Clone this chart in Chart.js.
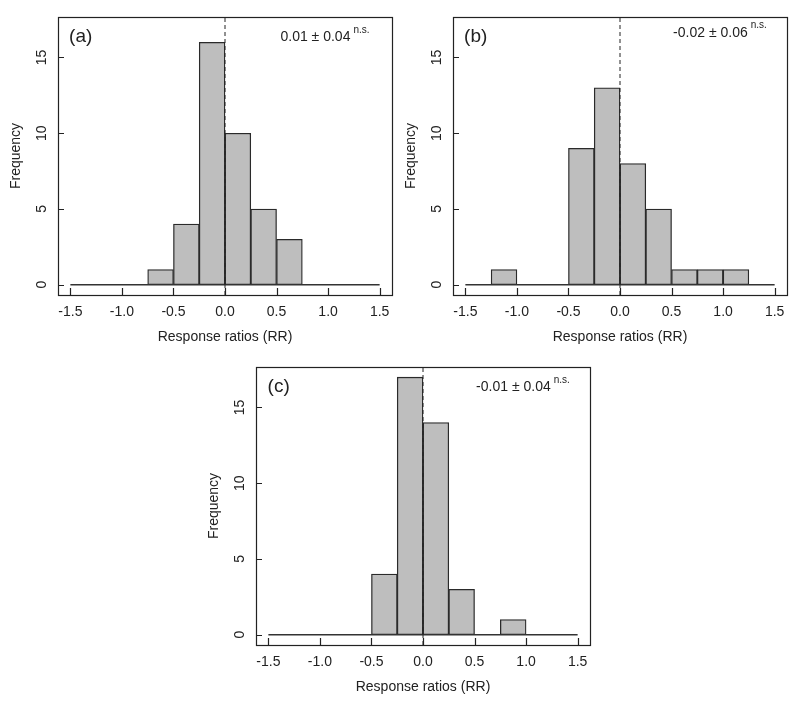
<!DOCTYPE html>
<html>
<head>
<meta charset="utf-8">
<script src="https://cdn.jsdelivr.net/npm/chart.js@4/dist/chart.umd.min.js"></script>
<style>
  html, body { margin: 0; padding: 0; background: #fff; }
  body { width: 800px; height: 708px; position: relative; overflow: hidden; }
  canvas { position: absolute; }
</style>
</head>
<body>
<canvas id="pa" width="400" height="354" style="left:0px;top:0px"></canvas>
<canvas id="pb" width="400" height="354" style="left:395px;top:0px"></canvas>
<canvas id="pc" width="400" height="354" style="left:198px;top:350px"></canvas>
<script>
// ---- data ----
const binEdges = [-1.5, -1.25, -1.0, -0.75, -0.5, -0.25, 0, 0.25, 0.5, 0.75, 1.0, 1.25, 1.5];
const countsA = [0, 0, 0, 1, 4, 16, 10, 5, 3, 0, 0, 0];
const countsB = [0, 1, 0, 0, 9, 13, 8, 5, 1, 1, 1, 0];
const countsC = [0, 0, 0, 0, 4, 17, 14, 3, 0, 1, 0, 0];
const xTickValues = [-1.5, -1.0, -0.5, 0, 0.5, 1.0, 1.5];
const xTickLabels = ['-1.5', '-1.0', '-0.5', '0.0', '0.5', '1.0', '1.5'];
const yTickValues = [0, 5, 10, 15];
const yTickLabels = ['0', '5', '10', '15'];
const panelLabels = ['(a)', '(b)', '(c)'];
const meanTexts = ['0.01 \u00B1 0.04', '-0.02 \u00B1 0.06', '-0.01 \u00B1 0.04'];
const sigTexts = ['n.s.', 'n.s.', 'n.s.'];
const xTitle = 'Response ratios (RR)';
const yTitle = 'Frequency';
const refLineValue = 0;

// ---- styling / layout ----
const FONT = '"Liberation Sans", Arial, Helvetica, sans-serif';
const INK = '#222222';
const X_MIN = -1.62, X_MAX = 1.62, Y_MIN = -0.68, Y_MAX = 17.68;

const framePlugin = {
  id: 'frame',
  afterDatasetsDraw(chart, args, opts) {
    const { ctx, chartArea: a, scales: { x, y } } = chart;
    ctx.save();
    ctx.strokeStyle = INK;
    ctx.lineWidth = 1.2;
    ctx.beginPath();
    x.ticks.forEach(t => {
      const px = Math.round(x.getPixelForValue(t.value)) + 0.5;
      ctx.moveTo(px, a.bottom);
      ctx.lineTo(px, a.bottom - 7);
    });
    y.ticks.forEach(t => {
      const py = Math.round(y.getPixelForValue(t.value)) + 0.5;
      ctx.moveTo(a.left, py);
      ctx.lineTo(a.left + 6, py);
    });
    ctx.stroke();
    ctx.strokeRect(Math.round(a.left) + 0.5, Math.round(a.top) + 0.5, Math.round(a.width), Math.round(a.height));

    ctx.fillStyle = INK;
    ctx.textBaseline = 'middle';
    ctx.textAlign = 'center';
    ctx.font = '19px ' + FONT;
    ctx.fillText(opts.label, x.getPixelForValue(opts.labelX), y.getPixelForValue(opts.labelY));

    ctx.font = '14px ' + FONT;
    const mw = ctx.measureText(opts.mean).width;
    ctx.font = '10px ' + FONT;
    const sw = ctx.measureText(opts.sig).width;
    const gap = 3;
    const total = mw + gap + sw;
    const cx = x.getPixelForValue(opts.meanX);
    const cy = y.getPixelForValue(opts.meanY);
    const left = cx - total / 2;
    ctx.textAlign = 'left';
    ctx.textBaseline = 'alphabetic';
    ctx.font = '14px ' + FONT;
    ctx.fillText(opts.mean, left, cy + 5);
    ctx.font = '10px ' + FONT;
    ctx.fillText(opts.sig, left + mw + gap, cy - 3.5);
    ctx.restore();
  }
};

function makeChart(id, counts, idx, meanY) {
  const bars = [];
  counts.forEach((c, i) => {
    if (c > 0) bars.push({ x: (binEdges[i] + binEdges[i + 1]) / 2, y: c });
  });
  const baseline = [{ x: binEdges[0], y: 0 }, { x: binEdges[binEdges.length - 1], y: 0 }];
  const refLine = [{ x: refLineValue, y: Y_MIN }, { x: refLineValue, y: Y_MAX }];
  return new Chart(document.getElementById(id), {
    type: 'bar',
    data: {
      datasets: [
        {
          type: 'line', data: refLine, borderColor: INK, borderWidth: 1,
          borderDash: [4, 3], pointRadius: 0, order: 0, fill: false
        },
        {
          type: 'line', data: baseline, borderColor: '#333333', borderWidth: 1.4,
          pointRadius: 0, order: 1, fill: false
        },
        {
          type: 'bar', data: bars, backgroundColor: '#bebebe', borderColor: '#2a2a2a',
          borderWidth: 1.3, borderSkipped: false, barPercentage: 1, categoryPercentage: 1, order: 2
        }
      ]
    },
    options: {
      responsive: false,
      animation: false,
      devicePixelRatio: 1,
      layout: { padding: { left: 0, top: 12, right: 8, bottom: 0 } },
      plugins: {
        legend: { display: false },
        tooltip: { enabled: false },
        frame: {
          label: panelLabels[idx], labelX: -1.4, labelY: 16.4,
          mean: meanTexts[idx], sig: sigTexts[idx], meanX: 0.97, meanY: meanY
        }
      },
      scales: {
        x: {
          type: 'linear', min: X_MIN, max: X_MAX, offset: false,
          grid: { display: false, drawTicks: false },
          border: { display: false },
          afterBuildTicks: s => { s.ticks = xTickValues.map(v => ({ value: v })); },
          afterFit: s => { s.height = 59; },
          ticks: {
            autoSkip: false, maxRotation: 0, minRotation: 0, padding: 9,
            color: INK, font: { family: FONT, size: 14 },
            callback: (v, i) => xTickLabels[i]
          },
          title: {
            display: true, text: xTitle, color: INK,
            font: { family: FONT, size: 14 }, padding: { top: 0, bottom: 8.6 }
          }
        },
        y: {
          type: 'linear', min: Y_MIN, max: Y_MAX,
          grid: { display: false, drawTicks: false },
          border: { display: false },
          afterBuildTicks: s => { s.ticks = yTickValues.map(v => ({ value: v })); },
          afterFit: s => { s.width = 58; },
          ticks: {
            autoSkip: false, minRotation: 90, maxRotation: 90, crossAlign: 'center', padding: 8.5,
            color: INK, font: { family: FONT, size: 14 },
            callback: (v, i) => yTickLabels[i]
          },
          title: {
            display: true, text: yTitle, color: INK,
            font: { family: FONT, size: 14 }, padding: { top: 8, bottom: 0 }
          }
        }
      }
    },
    plugins: [framePlugin]
  });
}

makeChart('pa', countsA, 0, 16.4);
makeChart('pb', countsB, 1, 16.7);
makeChart('pc', countsC, 2, 16.4);
</script>
</body>
</html>
